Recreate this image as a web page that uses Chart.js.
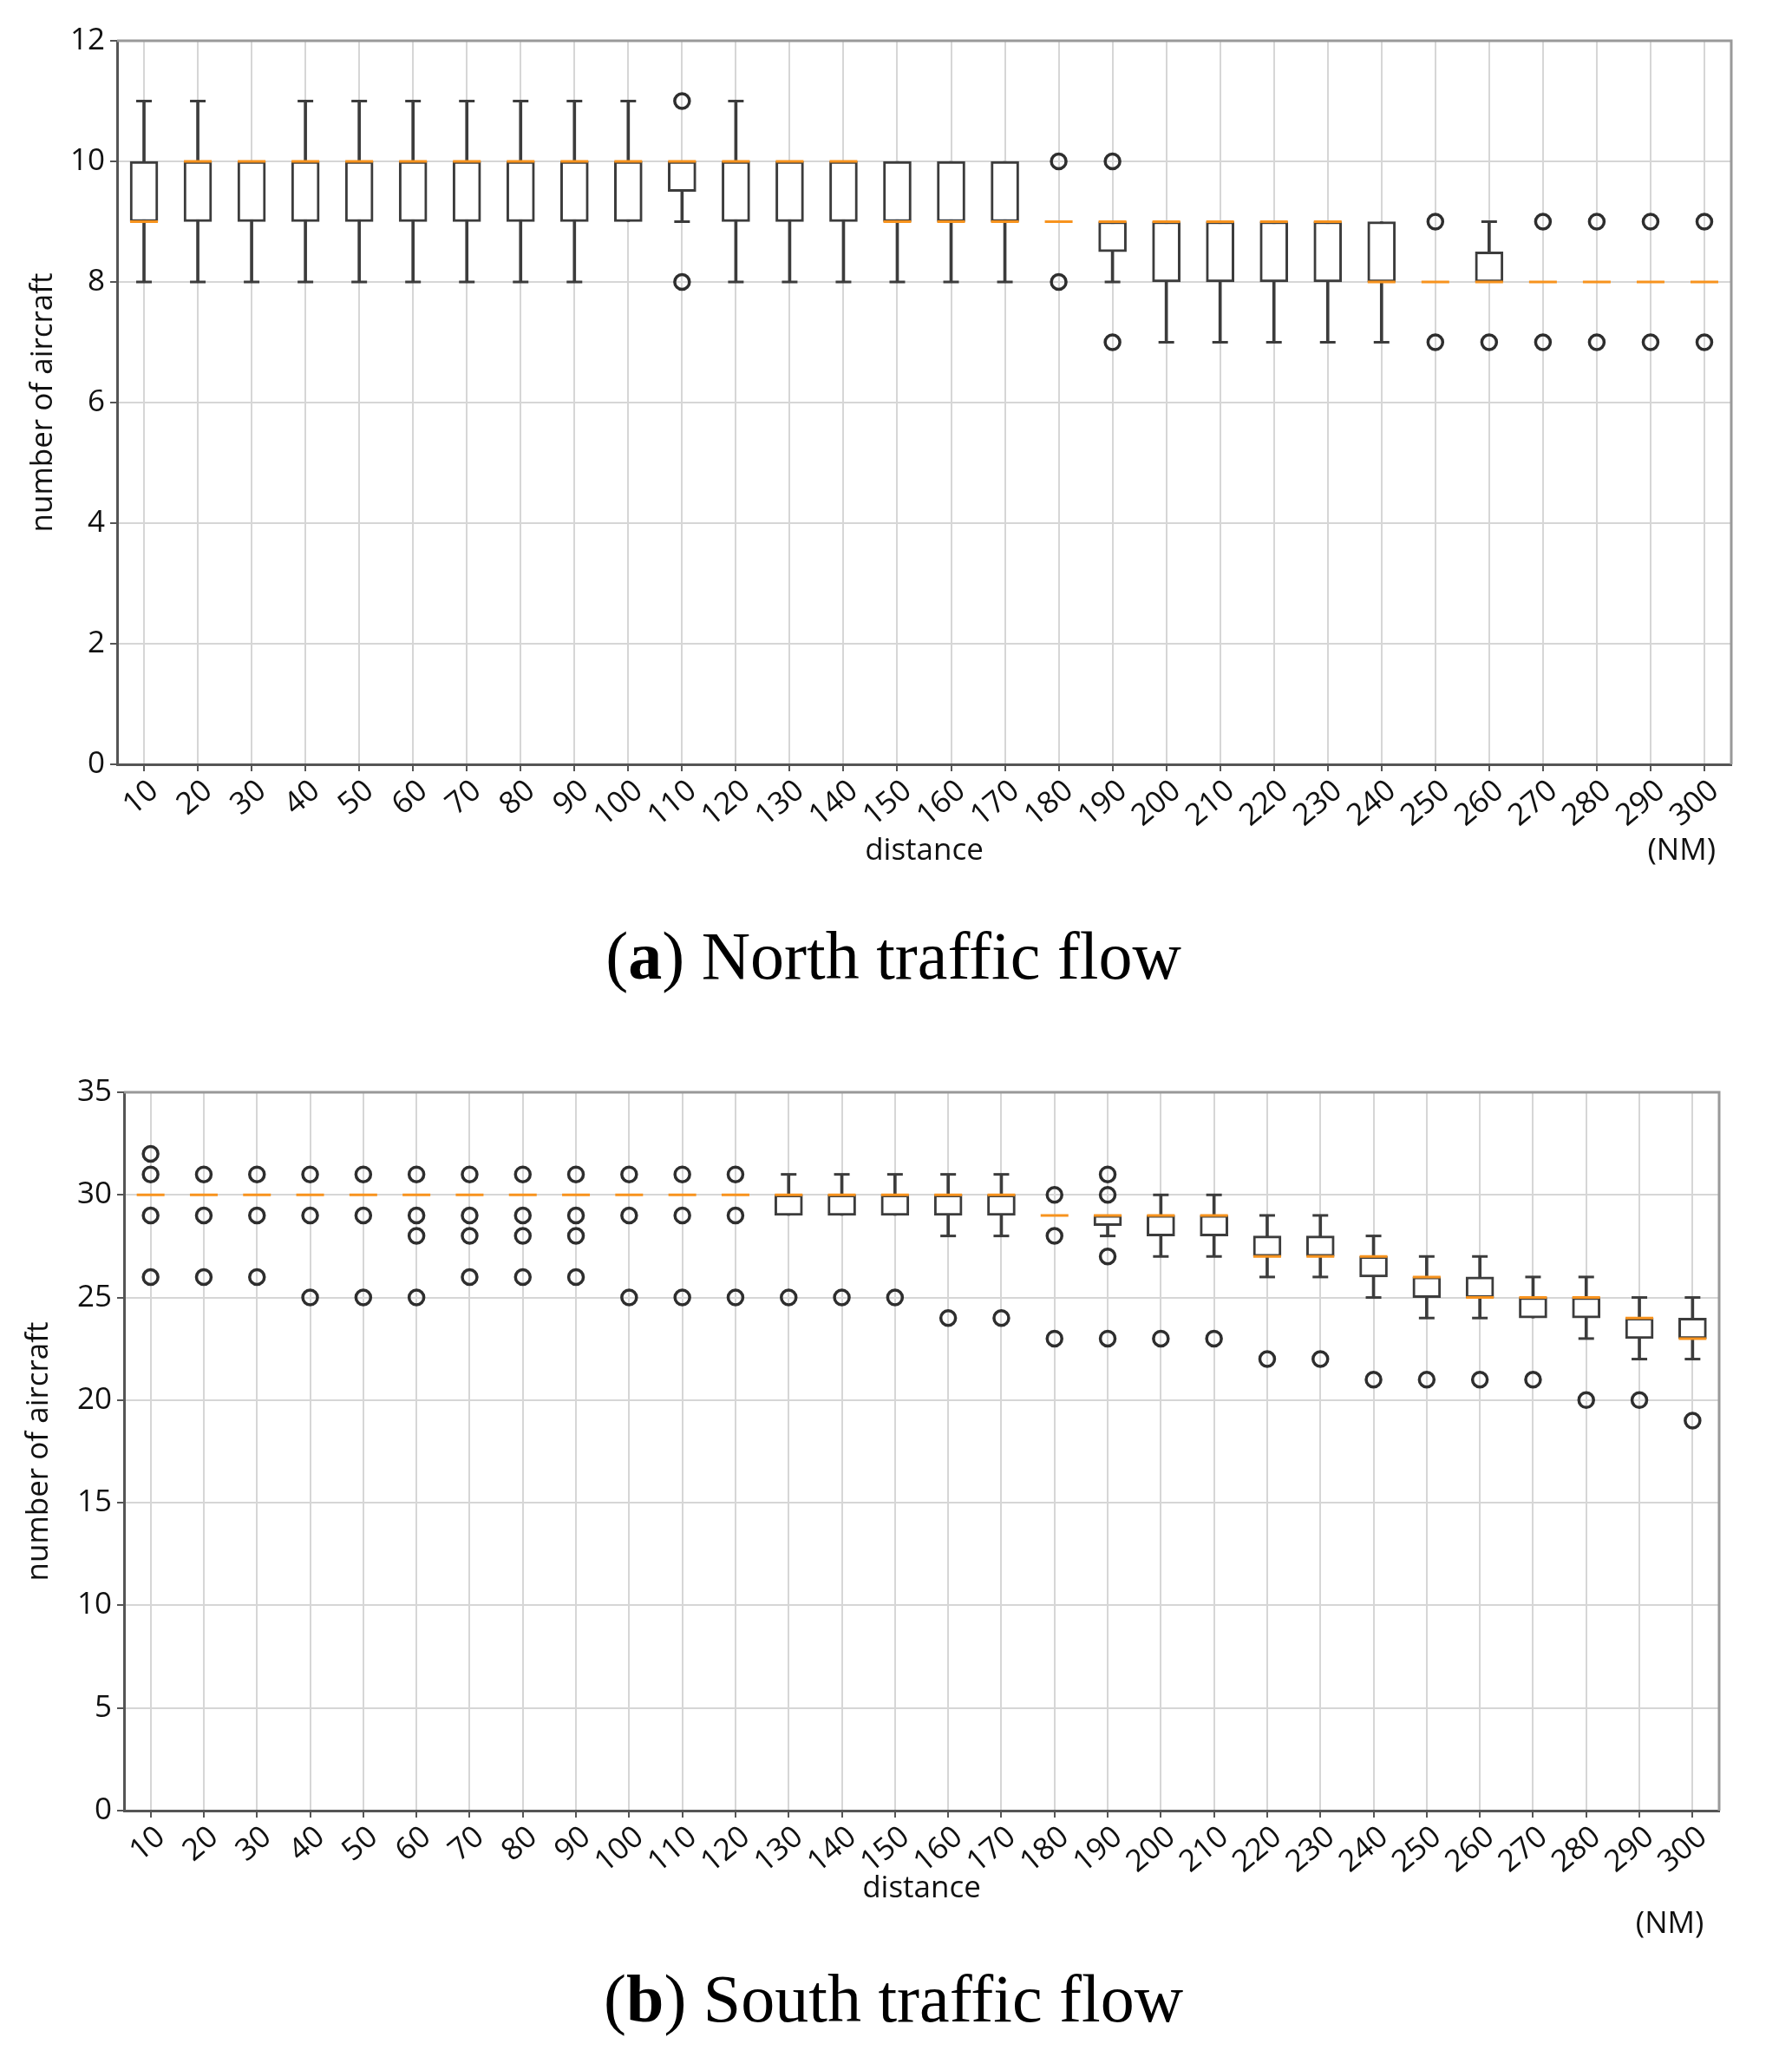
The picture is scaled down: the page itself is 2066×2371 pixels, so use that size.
<!DOCTYPE html>
<html>
<head>
<meta charset="utf-8">
<script src="https://cdn.jsdelivr.net/npm/chart.js@4.4.0/dist/chart.umd.min.js"></script>
<style>
body{margin:0;background:#fff;width:2066px;height:2371px;position:relative;overflow:hidden}
.panel{position:absolute;left:0}
.caption{position:absolute;left:0;width:2060px;text-align:center;font-family:"Liberation Serif",serif;font-size:78px;line-height:1;color:#000}
</style>
</head>
<body>
<canvas id="north" class="panel" width="2066" height="1010" style="top:0"></canvas>
<div class="caption" style="top:1063px">(<b>a</b>) North traffic flow</div>
<canvas id="south" class="panel" width="2066" height="1010" style="top:1230px"></canvas>
<div class="caption" style="top:2265px">(<b>b</b>) South traffic flow</div>
<script>
// distance categories (NM)
var distances = [10,20,30,40,50,60,70,80,90,100,110,120,130,140,150,160,170,180,190,200,210,220,230,240,250,260,270,280,290,300];

// (a) north flow
var northQ1   = [9,9,9,9,9,9,9,9,9,9,9.5,9,9,9,9,9,9,9,8.5,8,8,8,8,8,8,8,8,8,8,8];
var northMed  = [9,10,10,10,10,10,10,10,10,10,10,10,10,10,9,9,9,9,9,9,9,9,9,8,8,8,8,8,8,8];
var northQ3   = [10,10,10,10,10,10,10,10,10,10,10,10,10,10,10,10,10,9,9,9,9,9,9,9,8,8.5,8,8,8,8];
var northLow  = [8,8,8,8,8,8,8,8,8,9,9,8,8,8,8,8,8,9,8,7,7,7,7,7,8,8,8,8,8,8];
var northHigh = [11,11,10,11,11,11,11,11,11,11,10,11,10,10,10,10,10,9,9,9,9,9,9,9,8,9,8,8,8,8];
var northFliers = [[],[],[],[],[],[],[],[],[],[],[11,8],[],[],[],[],[],[],[10,8],[10,7],[],[],[],[],[],[9,7],[7],[9,7],[9,7],[9,7],[9,7]];
var northTicks = [0,2,4,6,8,10,12];

// (b) south flow
var southQ1   = [30,30,30,30,30,30,30,30,30,30,30,30,29,29,29,29,29,29,28.5,28,28,27,27,26,25,25,24,24,23,23];
var southMed  = [30,30,30,30,30,30,30,30,30,30,30,30,30,30,30,30,30,29,29,29,29,27,27,27,26,25,25,25,24,23];
var southQ3   = [30,30,30,30,30,30,30,30,30,30,30,30,30,30,30,30,30,29,29,29,29,28,28,27,26,26,25,25,24,24];
var southLow  = [30,30,30,30,30,30,30,30,30,30,30,30,29,29,29,28,28,29,28,27,27,26,26,25,24,24,24,23,22,22];
var southHigh = [30,30,30,30,30,30,30,30,30,30,30,30,31,31,31,31,31,29,29,30,30,29,29,28,27,27,26,26,25,25];
var southFliers = [[32,31,29,26],[31,29,26],[31,29,26],[31,29,25],[31,29,25],[31,29,28,25],[31,29,28,26],[31,29,28,26],[31,29,28,26],[31,29,25],[31,29,25],[31,29,25],[25],[25],[25],[24],[24],[30,28,23],[31,30,27,23],[23],[23],[22],[22],[21],[21],[21],[21],[20],[20],[19]];
var southTicks = [0,5,10,15,20,25,30,35];

Chart.defaults.font.family = "'Open Sans', sans-serif";
Chart.defaults.color = '#111';

var DARK = '#3c3c3c';
var ORANGE = '#f7931e';

// top/right frame lines and the "(NM)" unit label
var framePlugin = {
    id: 'frame',
    afterDraw: function(chart, args, opts) {
        var ctx = chart.ctx, a = chart.chartArea, x = chart.scales.x;
        ctx.save();
        ctx.strokeStyle = '#999';
        ctx.lineWidth = 3;
        ctx.beginPath();
        ctx.moveTo(a.left, a.top);
        ctx.lineTo(a.right, a.top);
        ctx.lineTo(a.right, a.bottom);
        ctx.stroke();
        ctx.fillStyle = '#111';
        ctx.font = "35px 'Open Sans', sans-serif";
        ctx.textAlign = 'right';
        ctx.textBaseline = 'middle';
        ctx.fillText('(NM)', x.getPixelForTick(x.ticks.length - 1) + 13, opts.unitY);
        ctx.restore();
    }
};

function boxChart(id, q1, med, q3, lo, hi, fliers, ticks, lay) {
    var labels = distances.map(String);
    var boxes = [], whiskers = [], capLow = [], capHigh = [], points = [];
    for (var i = 0; i < labels.length; i++) {
        boxes.push(q3[i] > q1[i] ? [q1[i], q3[i]] : null);
        whiskers.push(lo[i] < q1[i] || hi[i] > q3[i] ? [lo[i], hi[i]] : null);
        capLow.push(lo[i] < q1[i] ? lo[i] : null);
        capHigh.push(hi[i] > q3[i] ? hi[i] : null);
        fliers[i].forEach(function(v) { points.push({x: labels[i], y: v}); });
    }
    var mark = function(data, style, r, w, color, order) {
        return {type: 'line', data: data, showLine: false, pointStyle: style, pointRadius: r,
            pointBorderWidth: w, pointBorderColor: color, pointBackgroundColor: 'rgba(0,0,0,0)',
            borderColor: color, order: order};
    };
    return new Chart(document.getElementById(id), {
        type: 'bar',
        data: {
            labels: labels,
            datasets: [
                {data: whiskers, backgroundColor: DARK, borderWidth: 0, barThickness: 3, grouped: false, order: 6},
                {data: boxes, backgroundColor: '#fff', borderColor: DARK, borderWidth: 3, borderSkipped: false, barThickness: 32, grouped: false, order: 5},
                mark(capLow, 'line', 9, 3, DARK, 4),
                mark(capHigh, 'line', 9, 3, DARK, 4),
                mark(med, 'line', 16, 3, ORANGE, 3),
                mark(points, 'circle', 8.5, 3.5, '#2e2e2e', 2)
            ]
        },
        plugins: [framePlugin],
        options: {
            responsive: false,
            animation: false,
            devicePixelRatio: 1,
            layout: {padding: {left: 0, top: lay.top, right: lay.right, bottom: 0}},
            plugins: {legend: {display: false}, tooltip: {enabled: false}, frame: {unitY: lay.unitY}},
            scales: {
                x: {
                    offset: true,
                    afterFit: function(s) { s.height = lay.xHeight; },
                    grid: {offset: false, color: '#d6d6d6', lineWidth: 2, tickColor: '#555', tickLength: 8},
                    border: {color: '#555', width: 3},
                    ticks: {autoSkip: false, minRotation: 40, maxRotation: 40, labelOffset: 12, padding: 2, font: {size: 35}},
                    title: {display: true, text: 'distance', font: {size: 35}, padding: {top: 0, bottom: lay.titlePad}}
                },
                y: {
                    min: 0,
                    max: ticks[ticks.length - 1],
                    afterFit: function(s) { s.width = lay.yWidth; },
                    afterBuildTicks: function(s) { s.ticks = ticks.map(function(v) { return {value: v}; }); },
                    grid: {color: '#d6d6d6', lineWidth: 2, tickColor: '#555', tickLength: 8},
                    border: {color: '#555', width: 3},
                    ticks: {padding: 6, font: {size: 35}},
                    title: {display: true, text: 'number of aircraft', font: {size: 35}, padding: {top: lay.yTitlePad, bottom: 0}}
                }
            }
        }
    });
}

boxChart('north', northQ1, northMed, northQ3, northLow, northHigh, northFliers, northTicks,
    {top: 47, right: 70, xHeight: 129, yWidth: 135, titlePad: 8, unitY: 981, yTitlePad: 29});
boxChart('south', southQ1, southMed, southQ3, southLow, southHigh, southFliers, southTicks,
    {top: 29, right: 84, xHeight: 153, yWidth: 143, titlePad: 42, unitY: 988, yTitlePad: 24});
</script>
</body>
</html>
